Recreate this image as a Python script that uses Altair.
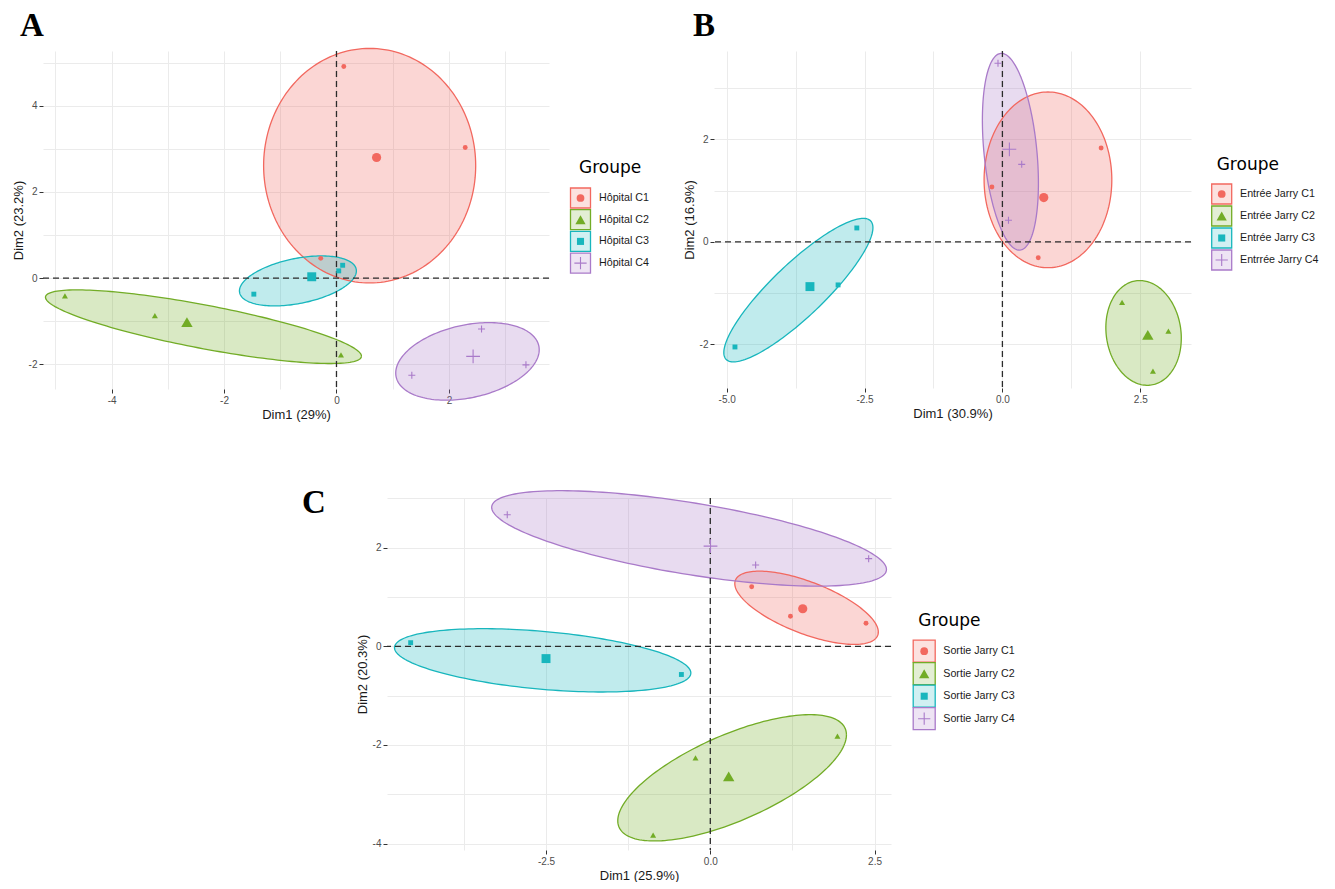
import numpy as np
import pandas as pd
import altair as alt

# ---------------- shared categories / styles ----------------
GROUPS = ["C1", "C2", "C3", "C4"]
COLORS = ["#F2685F", "#72AC26", "#18B6BD", "#A97AC9"]
PLUS = "M-1,0L1,0M0,-1L0,1"
SHAPES = ["circle", "triangle-up", "square", PLUS]
FILLED = [True, True, True, False]
SIZE_PT = [24, 36, 24, 49]
SIZE_CEN = [85, 130, 80, 190]
SIZE_LEG = [60, 105, 50, 150]

# ---------------- Panel A data ----------------
A_labels = ["Hôpital C1", "Hôpital C2", "Hôpital C3", "Hôpital C4"]
A_pt_group = ["C1", "C1", "C1", "C2", "C2", "C2", "C3", "C3", "C3", "C4", "C4", "C4"]
A_pt_x = [0.13, 2.29, -0.28, -4.83, -3.23, 0.08, -1.47, 0.04, 0.11, 1.34, 2.58, 3.37]
A_pt_y = [4.91, 3.03, 0.46, -0.41, -0.87, -1.78, -0.37, 0.17, 0.30, -2.25, -1.18, -2.01]
A_ell_cx = [0.59, -2.366, -0.686, 2.33]
A_ell_cy = [2.61, -1.125, -0.063, -1.93]
A_ell_hw = [1.886, 2.81, 1.04, 1.276]
A_ell_hh = [2.72, 0.854, 0.58, 0.90]
A_ell_r = [0.0, -0.8, 0.4, 0.3]
A_x_grid = [-5, -4, -3, -2, -1, 0, 1, 2, 3]
A_y_grid = [-2, -1, 0, 1, 2, 3, 4, 5]
A_x_dom = [-5.22, 3.78]
A_y_dom = [-2.57, 5.27]

# ---------------- Panel B data ----------------
B_labels = ["Entrée Jarry C1", "Entrée Jarry C2", "Entrée Jarry C3", "Entrrée Jarry C4"]
B_pt_group = ["C1", "C1", "C1", "C2", "C2", "C2", "C3", "C3", "C3", "C4", "C4", "C4"]
B_pt_x = [-0.19, 0.65, 1.79, 2.17, 3.01, 2.73, -4.85, -2.98, -2.64, -0.08, 0.35, 0.11]
B_pt_y = [1.07, -0.31, 1.83, -1.18, -1.74, -2.52, -2.05, -0.84, 0.27, 3.48, 1.51, 0.42]
B_ell_cx = [0.826, 2.56, -3.70, 0.145]
B_ell_cy = [1.208, -1.776, -0.942, 1.756]
B_ell_hw = [1.158, 0.684, 1.352, 0.508]
B_ell_hh = [1.713, 1.021, 1.399, 1.918]
B_ell_r = [0.0, -0.1, 0.87, -0.32]
B_x_grid = [-5.0, -3.75, -2.5, -1.25, 0.0, 1.25, 2.5]
B_y_grid = [-2, -1, 0, 1, 2, 3]
B_x_dom = [-5.23, 3.42]
B_y_dom = [-2.85, 3.72]

# ---------------- Panel C data ----------------
C_labels = ["Sortie Jarry C1", "Sortie Jarry C2", "Sortie Jarry C3", "Sortie Jarry C4"]
C_pt_group = ["C1", "C1", "C1", "C2", "C2", "C2", "C3", "C3", "C4", "C4", "C4"]
C_pt_x = [0.63, 1.22, 2.37, -0.225, 1.935, -0.87, -4.56, -0.44, -3.09, 0.69, 2.41]
C_pt_y = [1.21, 0.61, 0.47, -2.26, -1.82, -3.83, 0.075, -0.57, 2.67, 1.65, 1.78]
C_ell_cx = [1.465, 0.332, -2.551, -0.323]
C_ell_cy = [0.783, -2.666, -0.283, 2.19]
C_ell_hw = [1.092, 1.74, 2.255, 3.004]
C_ell_hh = [0.743, 1.281, 0.642, 0.968]
C_ell_r = [-0.66, 0.68, -0.4, -0.65]
C_x_grid = [-3.75, -2.5, -1.25, 0.0, 1.25, 2.5]
C_y_grid = [-4, -3, -2, -1, 0, 1, 2, 3]
C_x_dom = [-4.92, 2.75]
C_y_dom = [-4.13, 3.01]


def ellipse_frames(cx, cy, hw, hh, rr):
    line_rows, area_rows = [], []
    for g, a, b, w, h, r in zip(GROUPS, cx, cy, hw, hh, rr):
        phi = np.arccos(r)
        for i, t in enumerate(np.linspace(0, 2 * np.pi, 181)):
            line_rows.append({"grp": g, "i": i, "x": a + w * np.cos(t),
                              "y": b + h * np.cos(t - phi)})
        for t in np.linspace(0, np.pi, 121):
            y1 = b + h * np.cos(t - phi)
            y2 = b + h * np.cos(t + phi)
            area_rows.append({"grp": g, "x": a + w * np.cos(t),
                              "yhi": max(y1, y2), "ylo": min(y1, y2)})
    return pd.DataFrame(line_rows), pd.DataFrame(area_rows)


def label_expr(step, fmt):
    return (f"abs(datum.value % {step}) < 1e-9 ? (datum.value < 0 ? '-' : '') + "
            f"format(abs(datum.value), '{fmt}') : ''")


def make_axis(values, step, fmt, title):
    test = f"abs(datum.value % {step}) < 1e-9"
    return alt.Axis(
        values=values, labelExpr=label_expr(step, fmt), title=title,
        domain=False, grid=True, gridColor="#EBEBEB", gridWidth=1,
        ticks=True, tickSize=4, tickWidth=1, tickColor="#333333",
        tickOpacity={"condition": {"test": test, "value": 1}, "value": 0},
        labelColor="#4D4D4D", labelFontSize=10, labelFont="Liberation Sans",
        labelPadding=2, titleFont="Liberation Sans", titleFontSize=13,
        titleFontWeight="normal", titleColor="#1A1A1A", titlePadding=3,
    )


def make_panel(p):
    xs = alt.Scale(domain=p["xdom"], nice=False, zero=False)
    ys = alt.Scale(domain=p["ydom"], nice=False, zero=False)
    xaxis = make_axis(p["xgrid"], p["xstep"], p["xfmt"], p["xtitle"])
    yaxis = make_axis(p["ygrid"], 2, "d", p["ytitle"])
    col = alt.Scale(domain=GROUPS, range=COLORS)

    line_df, area_df = ellipse_frames(*p["ell"])
    pts = pd.DataFrame({"grp": p["pg"], "x": p["px"], "y": p["py"]})
    cen = pts.groupby("grp", as_index=False)[["x", "y"]].mean()

    X = alt.X("x:Q", scale=xs, axis=xaxis)
    Y = alt.Y("y:Q", scale=ys, axis=yaxis)

    layers = []
    layers.append(alt.Chart(area_df).mark_area(fillOpacity=0.27, strokeWidth=0).encode(
        x=X, y=alt.Y("yhi:Q", scale=ys, axis=yaxis), y2="ylo:Q",
        color=alt.Color("grp:N", scale=col, legend=None)))
    layers.append(alt.Chart(line_df).mark_line(strokeWidth=1.3).encode(
        x=X, y=Y, order="i:Q",
        color=alt.Color("grp:N", scale=col, legend=None)))
    layers.append(alt.Chart(pd.DataFrame({"x": [0.0]})).mark_rule(
        color="#2B2B2B", strokeWidth=1.3, strokeDash=[6, 4]).encode(x=X))
    layers.append(alt.Chart(pd.DataFrame({"y": [0.0]})).mark_rule(
        color="#2B2B2B", strokeWidth=1.3, strokeDash=[6, 4]).encode(y=Y))

    lp = p["legend"]
    for k, g in enumerate(GROUPS):
        flt = f"datum.grp === '{g}'"
        common = dict(shape=SHAPES[k], filled=FILLED[k], color=COLORS[k],
                      opacity=1, strokeWidth=1.1)
        layers.append(alt.Chart(pts).transform_filter(flt).mark_point(
            size=SIZE_PT[k], **common).encode(x=X, y=Y))
        layers.append(alt.Chart(cen).transform_filter(flt).mark_point(
            size=SIZE_CEN[k], **common).encode(x=X, y=Y))
        # legend entry
        ypos = lp["y0"] + k * lp["step"]
        one = pd.DataFrame({"lab": [p["labels"][k]]})
        layers.append(alt.Chart(one).mark_square(
            size=lp["box"] ** 2, filled=True, fill=COLORS[k], fillOpacity=0.2,
            stroke=COLORS[k], strokeWidth=1.3, strokeOpacity=1).encode(
            x=alt.value(lp["box_x"]), y=alt.value(ypos)))
        layers.append(alt.Chart(one).mark_point(
            size=SIZE_LEG[k], **common).encode(
            x=alt.value(lp["box_x"]), y=alt.value(ypos)))
        layers.append(alt.Chart(one).mark_text(
            align="left", baseline="middle", fontSize=10.7,
            font="Liberation Sans", color="#1A1A1A").encode(
            x=alt.value(lp["text_x"]), y=alt.value(ypos), text="lab:N"))
    layers.append(alt.Chart(pd.DataFrame({"t": ["Groupe"]})).mark_text(
        align="left", baseline="alphabetic", fontSize=17, font="DejaVu Sans",
        color="#000000").encode(x=alt.value(lp["title_x"]),
                                y=alt.value(lp["title_y"]), text="t:N"))
    layers.append(alt.Chart(pd.DataFrame({"t": [p["letter"]]})).mark_text(
        align="left", baseline="alphabetic", fontSize=33,
        font="Liberation Serif", fontWeight="bold", color="#000000").encode(
        x=alt.value(p["letter_pos"][0]), y=alt.value(p["letter_pos"][1]), text="t:N"))

    return alt.layer(*layers).properties(width=p["w"], height=p["h"])


panelA = make_panel(dict(
    labels=A_labels, pg=A_pt_group, px=A_pt_x, py=A_pt_y,
    ell=(A_ell_cx, A_ell_cy, A_ell_hw, A_ell_hh, A_ell_r),
    xgrid=A_x_grid, ygrid=A_y_grid, xdom=A_x_dom, ydom=A_y_dom,
    xstep=2, xfmt="d", xtitle="Dim1 (29%)", ytitle="Dim2 (23.2%)",
    w=506, h=338, letter="A", letter_pos=(-23, -15),
    legend=dict(title_x=536, title_y=122, box_x=537.5, text_x=556,
                y0=147, step=21.7, box=20)))

panelB = make_panel(dict(
    labels=B_labels, pg=B_pt_group, px=B_pt_x, py=B_pt_y,
    ell=(B_ell_cx, B_ell_cy, B_ell_hw, B_ell_hh, B_ell_r),
    xgrid=B_x_grid, ygrid=B_y_grid, xdom=B_x_dom, ydom=B_y_dom,
    xstep=2.5, xfmt=".1f", xtitle="Dim1 (30.9%)", ytitle="Dim2 (16.9%)",
    w=477, h=337, letter="B", letter_pos=(-21, -15),
    legend=dict(title_x=502.7, title_y=119, box_x=507.7, text_x=526,
                y0=143, step=22, box=20)))

panelC = make_panel(dict(
    labels=C_labels, pg=C_pt_group, px=C_pt_x, py=C_pt_y,
    ell=(C_ell_cx, C_ell_cy, C_ell_hw, C_ell_hh, C_ell_r),
    xgrid=C_x_grid, ygrid=C_y_grid, xdom=C_x_dom, ydom=C_y_dom,
    xstep=2.5, xfmt=".1f", xtitle="Dim1 (25.9%)", ytitle="Dim2 (20.3%)",
    w=504, h=352, letter="C", letter_pos=(-85, 15),
    legend=dict(title_x=531.3, title_y=128, box_x=537.2, text_x=556.3,
                y0=153.2, step=22.5, box=22)))

spacer = alt.Chart(pd.DataFrame({"a": [0]})).mark_point(opacity=0).encode(
    x=alt.value(0), y=alt.value(0)).properties(width=259, height=10)

row1 = alt.hconcat(panelA, panelB, spacing=34)
row2 = alt.hconcat(spacer, panelC, spacing=0)

chart = alt.vconcat(row1, row2, spacing=66).properties(
    padding={"left": 4, "top": 2, "right": 2, "bottom": 0},
    background="white",
).configure_view(stroke=None)

chart.save("out.html", embed_options={"renderer": "svg", "actions": False})
